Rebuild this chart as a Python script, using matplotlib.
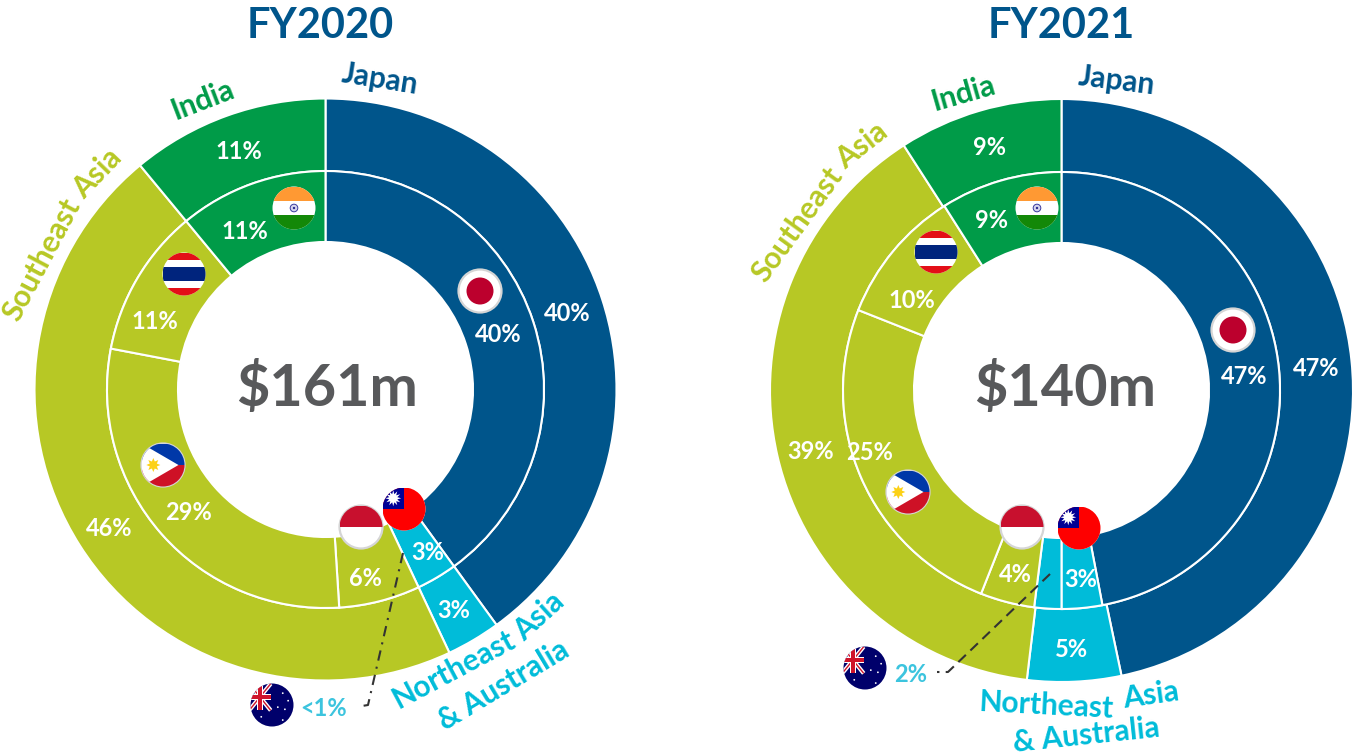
import numpy as np
import matplotlib
matplotlib.use("Agg")
import matplotlib.pyplot as plt
from matplotlib.patches import Circle, Polygon, Rectangle

plt.rcParams["font.family"] = ["Lato", "DejaVu Sans"]

WIDTH = 1352
HEIGHT = 756

NAVY = "#00558B"
GREEN = "#009B48"
OLIVE = "#B7C825"
CYAN = "#00BCD9"
LIGHT_CYAN = "#3CC4DE"
GRAY = "#58595B"

# clockwise from 12 o'clock
OUTER_COLORS = [NAVY, CYAN, OLIVE, GREEN]
OUTER_2020 = [40, 3, 46, 11]
OUTER_2021 = [46.7, 5.2, 39, 9.1]

INNER_COLORS_2020 = [NAVY, CYAN, OLIVE, OLIVE, OLIVE, GREEN]
INNER_2020 = [40, 3, 6, 29, 11, 11]
INNER_COLORS_2021 = [NAVY, CYAN, CYAN, OLIVE, OLIVE, OLIVE, GREEN]
INNER_2021 = [47, 3, 2, 4, 25, 10, 9]

TITLES = ["FY2020", "FY2021"]
TOTALS = ["$161m", "$140m"]

PCT_SIZE = 17
REGION_SIZE = 21.5


def py(y):
    # positions below are read in image pixels, y going down
    return HEIGHT - y


def label(ax, x, y, text, size=PCT_SIZE, color="white", rotation=0):
    ax.text(x, py(y + size * 0.1), text, fontsize=size, color=color, fontweight="bold",
            ha="center", va="center", rotation=rotation, rotation_mode="anchor", zorder=6)


def draw_donut(ax, cx, cy, radius, outer, inner, inner_colors):
    wedge = {"edgecolor": "white", "linewidth": 1.5}
    ax.pie(outer, colors=OUTER_COLORS, center=(cx, py(cy)), radius=radius,
           startangle=90, counterclock=False, frame=True,
           wedgeprops={**wedge, "width": radius - 218.5})
    ax.pie(inner, colors=inner_colors, center=(cx, py(cy)), radius=218.5,
           startangle=90, counterclock=False, frame=True,
           wedgeprops={**wedge, "width": 71})


def clipped(ax, clip, patches):
    for patch in patches:
        ax.add_patch(patch)
        patch.set_clip_path(clip)


def star(x, y, points, big, small):
    angles = np.linspace(0, 2 * np.pi, points * 2, endpoint=False)
    radii = np.where(np.arange(points * 2) % 2 == 0, big, small)
    return np.c_[x + radii * np.cos(angles), y + radii * np.sin(angles)]


def draw_flag(ax, name, x, y, r=21.5):
    y = py(y)
    ringed = name in ("japan", "philippines", "indonesia")
    clip = Circle((x, y), r, facecolor="white",
                  edgecolor="#D5D5D5" if ringed else "none",
                  linewidth=1.6 if ringed else 0, zorder=3)
    ax.add_patch(clip)

    def band(top, bottom, color):
        return Rectangle((x - r, y + r * bottom), 2 * r, r * (top - bottom),
                         facecolor=color, edgecolor="none", zorder=3)

    if name == "japan":
        ax.add_patch(Circle((x, y), 13.5, facecolor="#BC002D", edgecolor="none", zorder=4))
    elif name == "india":
        clipped(ax, clip, [band(1, 0.33, "#FF9933"), band(-0.33, -1, "#138808")])
        ax.add_patch(Circle((x, y), 3.8, facecolor="#D5D5EE", edgecolor="#3A3A9E",
                            linewidth=0.7, zorder=4))
        ax.add_patch(Circle((x, y), 1.2, facecolor="#2A2A8E", edgecolor="none", zorder=4))
    elif name == "thailand":
        clipped(ax, clip, [band(1, 0.66, "#E30F17"), band(0.33, -0.33, "#00247D"),
                           band(-0.66, -1, "#E30F17")])
    elif name == "indonesia":
        clipped(ax, clip, [band(1, 0, "#C8102E")])
    elif name == "philippines":
        triangle = Polygon([(x - r, y + r), (x + 0.72 * r, y), (x - r, y - r)],
                           facecolor="white", edgecolor="none", zorder=3.5)
        clipped(ax, clip, [band(1, 0, "#0038A8"), band(0, -1, "#CE1126"), triangle])
        ax.add_patch(Polygon(star(x - 0.45 * r, y, 8, 7, 3.8), facecolor="#FCD116",
                             edgecolor="none", zorder=4))
    elif name == "taiwan":
        canton = Rectangle((x - r, y), r, r, facecolor="#000095", edgecolor="none", zorder=3.5)
        clipped(ax, clip, [band(1, -1, "#FE0000"), canton])
        ax.add_patch(Polygon(star(x - r / 2, y + r / 2, 12, 8, 4.2), facecolor="white",
                             edgecolor="none", zorder=4))
    elif name == "australia":
        clip.set_facecolor("#00006B")
        jack_x, jack_y = x - 0.56 * r, y + 0.37 * r
        span_x, span_y = 0.5 * r, 0.62 * r
        for sign in (1, -1):
            for color, lw in [("white", 3.0), ("#CF142B", 1.0)]:
                line, = ax.plot([jack_x - span_x, jack_x + span_x],
                                [jack_y - sign * span_y, jack_y + sign * span_y],
                                color=color, linewidth=lw, zorder=4, solid_capstyle="butt")
                line.set_clip_path(clip)
        for color, half in [("white", 3.2), ("#CF142B", 1.9)]:
            clipped(ax, clip, [
                Rectangle((jack_x - span_x, jack_y - half), 2 * span_x, 2 * half,
                          facecolor=color, edgecolor="none", zorder=4.5),
                Rectangle((jack_x - half, jack_y - span_y), 2 * half, 2 * span_y,
                          facecolor=color, edgecolor="none", zorder=4.5),
            ])
        for sx, sy in [(0.5, 0.55), (0.75, 0.2), (0.27, -0.1), (0.6, -0.2), (0.5, -0.7), (-0.5, -0.55)]:
            ax.add_patch(Circle((x + sx * r, y + sy * r), 0.9, facecolor="white",
                                edgecolor="none", zorder=5))


def main():
    fig = plt.figure(figsize=(WIDTH / 100, HEIGHT / 100), dpi=100)
    ax = fig.add_axes([0, 0, 1, 1])

    draw_donut(ax, 325.5, 389.5, 291, OUTER_2020, INNER_2020, INNER_COLORS_2020)
    draw_donut(ax, 1061.5, 390.5, 291.5, OUTER_2021, INNER_2021, INNER_COLORS_2021)

    ax.set_xlim(0, WIDTH)
    ax.set_ylim(0, HEIGHT)
    ax.set_aspect("equal")
    ax.axis("off")

    # titles and totals
    label(ax, 320, 23, TITLES[0], size=30, color=NAVY)
    label(ax, 1061, 23, TITLES[1], size=30, color=NAVY)
    label(ax, 327, 385, TOTALS[0], size=41.5, color=GRAY)
    label(ax, 1065, 385, TOTALS[1], size=41.5, color=GRAY)

    # leader lines behind the percent labels
    ax.plot([403, 368, 362], [py(553), py(705), py(706)], color="#333333", linewidth=1.5,
            linestyle=(0, (5, 3, 1, 3)), zorder=2.5)
    ax.plot([1050, 948, 937], [py(574), py(672), py(672)], color="#333333", linewidth=1.5,
            linestyle=(0, (5, 3)), zorder=2.5)

    # FY2020 percent labels
    for x, y, text in [(567, 312, "40%"), (498, 333, "40%"), (239, 150, "11%"), (245, 230, "11%"),
                       (155, 320, "11%"), (109, 527, "46%"), (188, 511, "29%"), (365, 577, "6%"),
                       (428, 551, "3%"), (454, 609, "3%")]:
        label(ax, x, y, text)
    label(ax, 324, 707, "<1%", color=LIGHT_CYAN)

    # FY2021 percent labels
    for x, y, text in [(1316, 367, "47%"), (1244, 375, "47%"), (990, 146, "9%"), (992, 219, "9%"),
                       (912, 299, "10%"), (811, 450, "39%"), (870, 451, "25%"), (1015, 573, "4%"),
                       (1081, 578, "3%"), (1072, 648, "5%")]:
        label(ax, x, y, text)
    label(ax, 911, 673, "2%", color=LIGHT_CYAN)

    # region names, one rotation per word to follow the ring
    label(ax, 380, 77, "Japan", size=REGION_SIZE, color=NAVY, rotation=-9)
    label(ax, 203, 98, "India", size=REGION_SIZE, color=GREEN, rotation=21)
    label(ax, 42, 258, "Southeast", size=REGION_SIZE, color=OLIVE, rotation=62)
    label(ax, 97, 171, "Asia", size=REGION_SIZE, color=OLIVE, rotation=46)
    label(ax, 454, 667, "Northeast", size=REGION_SIZE, color=CYAN, rotation=28)
    label(ax, 539, 614, "Asia", size=REGION_SIZE, color=CYAN, rotation=42)
    label(ax, 503, 683, "& Australia", size=REGION_SIZE, color=CYAN, rotation=31)

    label(ax, 1117, 79, "Japan", size=REGION_SIZE, color=NAVY, rotation=-7)
    label(ax, 964, 91, "India", size=REGION_SIZE, color=GREEN, rotation=16)
    label(ax, 797, 222, "Southeast", size=REGION_SIZE, color=OLIVE, rotation=54)
    label(ax, 862, 143, "Asia", size=REGION_SIZE, color=OLIVE, rotation=38)
    label(ax, 1046, 703, "Northeast", size=REGION_SIZE, color=CYAN, rotation=-3)
    label(ax, 1151, 693, "Asia", size=REGION_SIZE, color=CYAN, rotation=8)
    label(ax, 1086, 733, "& Australia", size=REGION_SIZE, color=CYAN, rotation=6)

    # flags
    for name, x, y in [("india", 294, 208), ("thailand", 184, 274), ("japan", 480, 291),
                       ("philippines", 163, 465), ("indonesia", 361, 527), ("taiwan", 404, 509),
                       ("australia", 272, 705),
                       ("india", 1037, 208), ("thailand", 936, 252), ("japan", 1233, 330),
                       ("philippines", 908, 492), ("indonesia", 1022, 527), ("taiwan", 1079, 528),
                       ("australia", 865, 668)]:
        draw_flag(ax, name, x, y)

    fig.savefig("out.png", dpi=100)
    plt.close(fig)


if __name__ == "__main__":
    main()
